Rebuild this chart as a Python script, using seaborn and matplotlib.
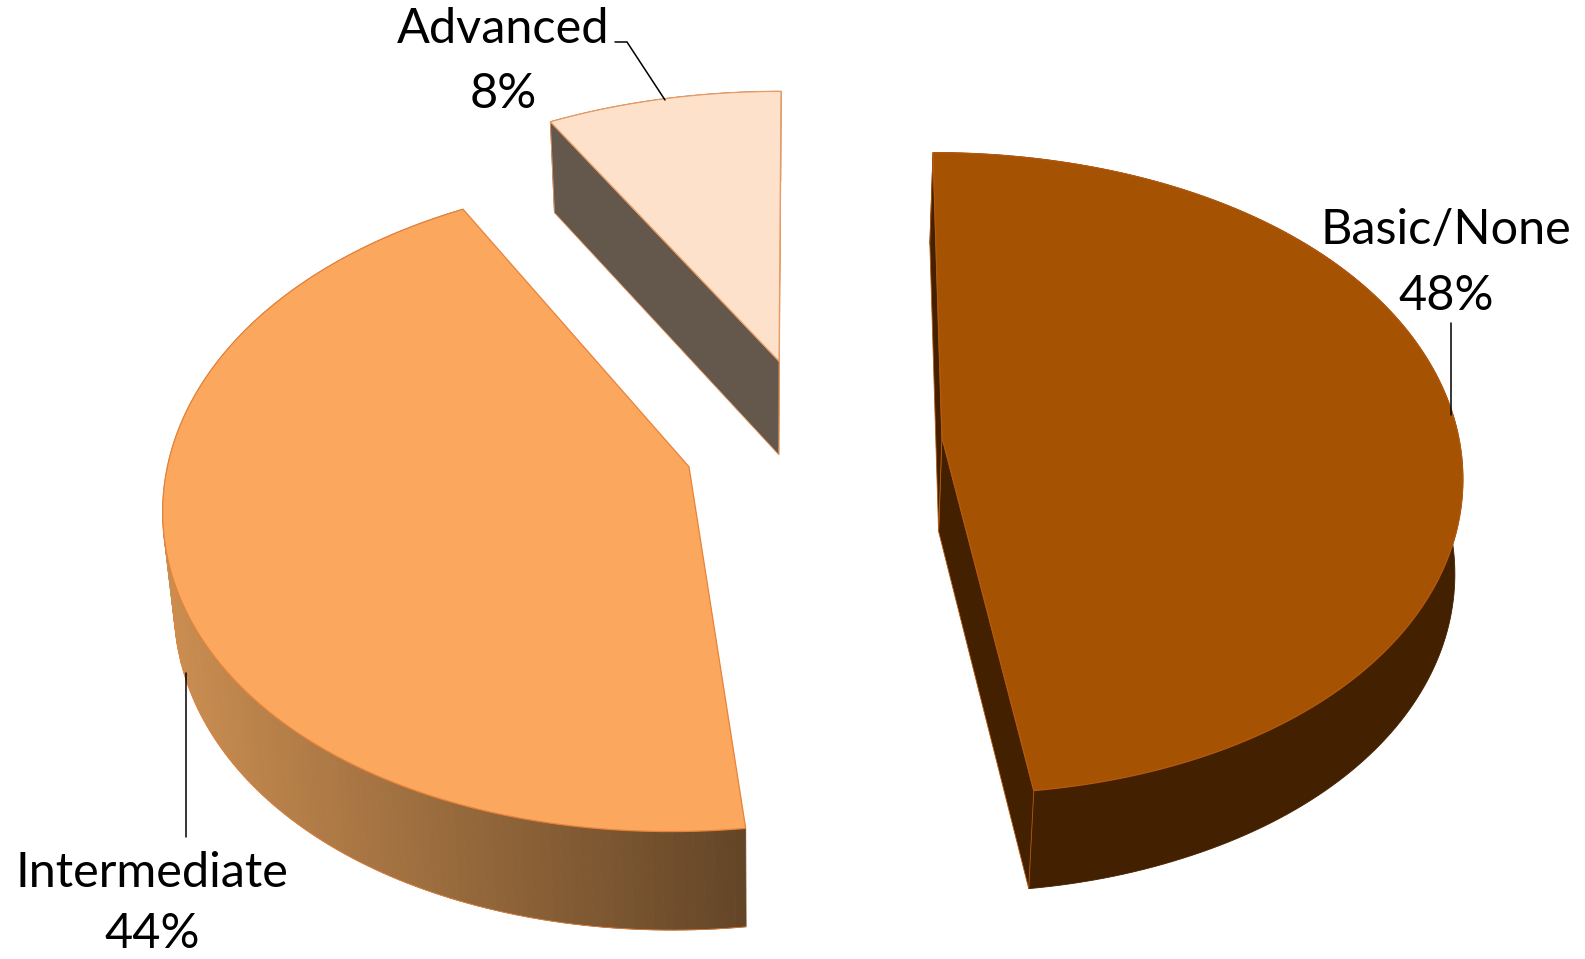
import numpy as np
import matplotlib
matplotlib.use("Agg")
import matplotlib.pyplot as plt
from matplotlib.patches import Polygon
from matplotlib.colors import to_rgb
import seaborn as sns

categories = ["Basic/None", "Intermediate", "Advanced"]
shares = [48, 44, 8]
explode = [0.25, 0.25, 0.27]
top_colors = ["#A65203", "#FBA75D", "#FDE1CA"]
edge_colors = ["#B4590E", "#E8823A", "#E89A62"]
wall_colors = ["#432100", None, "#64574B"]
grad_left, grad_right = "#CB8E51", "#634527"

W, H = 1585, 959
sns.set_theme(style="white")
plt.rcParams["font.family"] = ["Lato", "DejaVu Sans"]
fig = plt.figure(figsize=(W / 100, H / 100), dpi=100)
pie_ax = fig.add_axes([0, 0, 1, 1])
wedges, _ = pie_ax.pie(shares, startangle=90, counterclock=False, explode=explode,
                       colors=sns.color_palette(top_colors))
geom = [(w.center, w.r, w.theta1, w.theta2) for w in wedges]
for w in wedges:
    w.remove()
pie_ax.set_aspect("auto")
pie_ax.set_xlim(0, W)
pie_ax.set_ylim(H, 0)
pie_ax.axis("off")
ax = pie_ax

CX, CY, RX, RY = 813, 442, 517.5, 317.6


def top(u, v):
    wx = 1 + 0.1 * v - 0.025 * v ** 2
    wy = 1 + 0.113 * v
    return CX + RX * u / wx, CY - RY * v / wy


def bottom(u, v):
    x, y = top(u, v)
    return x - np.clip(0.019 * (x - 766), -20, 8), y + 91 + 0.0106 * (y - 124)


def outline(center, r, t1, t2, n=160):
    th = np.radians(np.linspace(t1, t2, n))
    return center[0] + r * np.cos(th), center[1] + r * np.sin(th)


for i in [2, 0, 1]:
    center, r, t1, t2 = geom[i]
    au, av = outline(center, r, t1, t2)
    tx, ty = top(au, av)
    bx, by = bottom(au, av)
    ax0, ay0 = top(*center)
    bx0, by0 = bottom(*center)
    if wall_colors[i] is not None:
        wc = wall_colors[i]
        ax.add_patch(Polygon(np.r_[np.c_[tx, ty], np.c_[bx, by][::-1]],
                             closed=True, fc=wc, ec=wc, lw=0.6, zorder=2))
        # radial faces go over the outer wall
        for j in (0, -1):
            ax.add_patch(Polygon([(ax0, ay0), (tx[j], ty[j]), (bx[j], by[j]), (bx0, by0)],
                                 closed=True, fc=wc, ec=edge_colors[i], lw=0.6, zorder=2))
    else:
        c0, c1 = np.array(to_rgb(grad_left)), np.array(to_rgb(grad_right))
        xmin, xmax = tx.min(), tx.max()
        for j in range(len(tx) - 1):
            f = ((tx[j] + tx[j + 1]) / 2 - xmin) / (xmax - xmin)
            c = c0 + (c1 - c0) * f
            ax.add_patch(Polygon([(tx[j], ty[j]), (tx[j + 1], ty[j + 1]),
                                  (bx[j + 1], by[j + 1]), (bx[j], by[j])],
                                 closed=True, fc=c, ec=c, lw=0.6, zorder=2))
        ax.plot(bx, by, color=edge_colors[i], lw=0.5, zorder=2.1)
    ax.add_patch(Polygon(np.r_[[(ax0, ay0)], np.c_[tx, ty]], closed=True,
                         fc=top_colors[i], ec=edge_colors[i], lw=0.9, zorder=3))

label_pos = {"Basic/None": (1446, 244, 310), "Intermediate": (152, 887, 948), "Advanced": (503, 43, 108)}
for cat, val in zip(categories, shares):
    x, y1, y2 = label_pos[cat]
    ax.text(x, y1, cat, ha="center", va="baseline", fontsize=35, color="black", zorder=5)
    ax.text(x, y2, f"{val}%", ha="center", va="baseline", fontsize=35, color="black", zorder=5)

leaders = [([1451, 1451], [323, 415]), ([186, 186], [673, 837]), ([615, 627, 665], [42, 42, 100])]
for lx, ly in leaders:
    ax.plot(lx, ly, color="black", lw=1.1, zorder=4, solid_joinstyle="miter")

fig.savefig("out.png", dpi=100, facecolor="white")
